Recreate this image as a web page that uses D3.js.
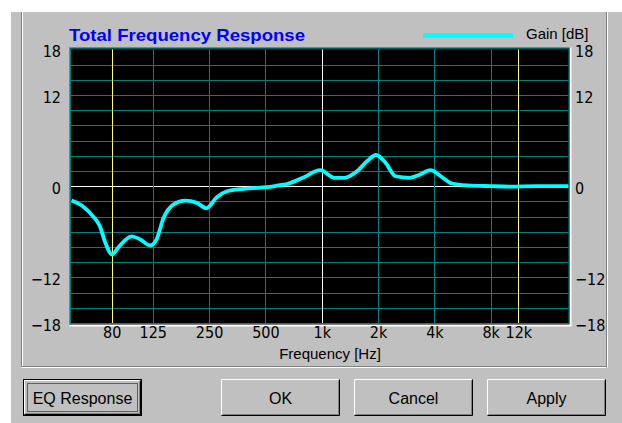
<!DOCTYPE html>
<html><head><meta charset="utf-8">
<script src="https://cdn.jsdelivr.net/npm/d3@7"></script>
<style>
html,body{margin:0;padding:0;background:#fff;}
svg{display:block;}
text{font-family:"Liberation Sans",Arial,sans-serif;}
</style></head><body>
<svg id="chart" width="622" height="423"></svg>
<script>
// Total response curve: frequency (Hz) and gain (dB)
const freqHz = [46, 53.2, 60.1, 65.3, 69.6, 75.8, 81.5, 96.3, 107, 121, 131, 142.7, 161.6, 186, 215, 242, 274, 310, 381, 468, 526, 586, 645, 792, 982, 1170, 1320, 1549, 1750, 1950, 2190, 2480, 2960, 3330, 3810, 4330, 4980, 6000, 8000, 10100, 14000, 20800];
const gainDb = [-1.9, -2.7, -4.0, -5.3, -7.4, -9.0, -8.1, -6.6, -7.0, -7.8, -7.0, -4.2, -2.4, -1.9, -2.2, -2.9, -1.5, -0.7, -0.35, -0.2, -0.1, 0.1, 0.25, 1.1, 2.1, 1.1, 1.1, 2.0, 3.3, 4.1, 3.1, 1.3, 1.1, 1.5, 2.1, 1.3, 0.35, 0.1, 0.0, -0.05, 0.0, 0.0];

// Frequency grid and its labels
const xTickFreqs = [75.4, 125, 250, 500, 1000, 2000, 4000, 8000, 11240];
const xTickLabels = ["80", "125", "250", "500", "1k", "2k", "4k", "8k", "12k"];
const xMarkerFreqs = [75.4, 11240];   // crossover markers (yellow)
const xRefFreq = 1000;                // reference line (white)
// Gain grid and its labels
const yTickValues = [18, 12, 0, -12, -18];
const yGridValues = d3.range(-16, 17, 2);
// Dialog buttons
const buttonLabels = ["EQ Response", "OK", "Cancel", "Apply"];

const svg = d3.select("#chart");
const plot = {left: 71, right: 568.5, top: 49.3, bottom: 323};

const x = d3.scaleLog().domain([45.7, 20840]).range([plot.left, plot.right]);
const y = d3.scaleLinear().domain([-18, 18]).range([plot.bottom, plot.top]);

// dialog background
svg.append("rect").attr("x", 11).attr("y", 12).attr("width", 611).attr("height", 411).attr("fill", "#c0c0c0");

// etched group frame
function etched(x1, y1, x2, y2) {
  svg.append("line").attr("x1", x1).attr("y1", y1).attr("x2", x2).attr("y2", y2).attr("stroke", "#808080");
  svg.append("line").attr("x1", x1 + (x1 === x2 ? 1 : 0)).attr("y1", y1 + (y1 === y2 ? 1 : 0))
    .attr("x2", x2 + (x1 === x2 ? 1 : 0)).attr("y2", y2 + (y1 === y2 ? 1 : 0)).attr("stroke", "#ffffff");
}
etched(21.5, 12, 21.5, 366.5);
etched(21.5, 366.5, 606.5, 366.5);
etched(606.5, 12, 606.5, 367.5);

// plot well
svg.append("rect").attr("x", 70).attr("y", 48).attr("width", 500.5).attr("height", 277).attr("fill", "#000");
svg.append("line").attr("x1", 69.5).attr("y1", 47.5).attr("x2", 570.5).attr("y2", 47.5).attr("stroke", "#808080");
svg.append("line").attr("x1", 69.5).attr("y1", 47.5).attr("x2", 69.5).attr("y2", 325.5).attr("stroke", "#808080");
svg.append("line").attr("x1", 570.5).attr("y1", 47.5).attr("x2", 570.5).attr("y2", 325.5).attr("stroke", "#ffffff").attr("stroke-width", 2);
svg.append("line").attr("x1", 69.5).attr("y1", 325.5).attr("x2", 571.5).attr("y2", 325.5).attr("stroke", "#ffffff").attr("stroke-width", 2);

const g = svg.append("g");

// horizontal grid
g.selectAll("line.hgrid").data(yGridValues).join("line")
  .attr("x1", plot.left).attr("x2", plot.right)
  .attr("y1", d => Math.round(y(d)) + 0.5).attr("y2", d => Math.round(y(d)) + 0.5)
  .attr("stroke", d => d === 0 ? "#ffffff" : "#008080");

// vertical grid
g.selectAll("line.vgrid").data(xTickFreqs).join("line")
  .attr("y1", plot.top).attr("y2", plot.bottom)
  .attr("x1", d => Math.round(x(d)) + 0.5).attr("x2", d => Math.round(x(d)) + 0.5)
  .attr("stroke", d => xMarkerFreqs.includes(d) ? "#ffff80" : (d === xRefFreq ? "#ffffff" : "#008080"));

// grid border
g.append("rect").attr("x", plot.left - 0.5).attr("y", plot.top - 0.5)
  .attr("width", plot.right - plot.left + 1).attr("height", plot.bottom - plot.top + 1)
  .attr("fill", "none").attr("stroke", "#008080");

// response curve
const pts = freqHz.map((f, i) => [f, gainDb[i]]);
g.append("path").datum(pts)
  .attr("d", d3.line().x(d => x(d[0])).y(d => y(d[1])).curve(d3.curveMonotoneX))
  .attr("fill", "none").attr("stroke", "#00ffff").attr("stroke-width", 3.8)
  .attr("stroke-linejoin", "round").attr("stroke-linecap", "butt");

// axes
const tickFont = '"Liberation Sans Narrow","DejaVu Sans Condensed",sans-serif';
const yAxisL = d3.axisLeft(y).tickValues(yTickValues).tickSize(0).tickPadding(0).tickFormat(d3.format("d"));
const yAxisR = d3.axisRight(y).tickValues(yTickValues).tickSize(0).tickPadding(0).tickFormat(d3.format("d"));
const xAxis = d3.axisBottom(x).tickValues(xTickFreqs).tickSize(0).tickPadding(0)
  .tickFormat((d, i) => xTickLabels[i]);

function styleAxis(sel) {
  sel.select(".domain").remove();
  sel.selectAll("text").attr("fill", "#000").style("font-family", tickFont).style("font-size", "16px");
}
svg.append("g").attr("transform", "translate(61,2)").call(yAxisL).call(styleAxis);
svg.append("g").attr("transform", "translate(575,2)").call(yAxisR).call(styleAxis);
svg.append("g").attr("transform", "translate(0,327)").call(xAxis).call(styleAxis);

svg.append("text").attr("x", 330).attr("y", 359).attr("text-anchor", "middle")
  .style("font-size", "15px").attr("fill", "#000").text("Frequency [Hz]");

// title and legend
svg.append("text").attr("x", 69).attr("y", 41).attr("fill", "#0000ff")
  .style("font-size", "17px").style("font-weight", "bold")
  .attr("textLength", 236).attr("lengthAdjust", "spacingAndGlyphs")
  .text("Total Frequency Response");
svg.append("line").attr("x1", 423).attr("x2", 513).attr("y1", 35.5).attr("y2", 35.5)
  .attr("stroke", "#00ffff").attr("stroke-width", 5);
svg.append("text").attr("x", 526).attr("y", 39).attr("fill", "#000")
  .style("font-size", "15px").text("Gain [dB]");

// buttons
const btnX = [23, 221, 354, 487];
const btnW = 119, btnY = 379, btnH = 37;
buttonLabels.forEach((label, i) => {
  const bx = btnX[i], by = btnY, focused = i === 0;
  const b = svg.append("g");
  b.append("rect").attr("x", bx).attr("y", by).attr("width", btnW).attr("height", btnH).attr("fill", "#c0c0c0");
  const o = focused ? 1 : 0;
  if (focused) {
    b.append("rect").attr("x", bx + 0.5).attr("y", by + 0.5).attr("width", btnW - 1).attr("height", btnH - 1)
      .attr("fill", "none").attr("stroke", "#000");
  }
  const L = bx + o + 0.5, T = by + o + 0.5, R = bx + btnW - o - 0.5, B = by + btnH - o - 0.5;
  b.append("path").attr("d", `M${L},${B - 1}V${T}H${R - 1}`).attr("fill", "none").attr("stroke", "#ffffff");
  b.append("path").attr("d", `M${L},${B}H${R}V${T}`).attr("fill", "none").attr("stroke", "#000");
  b.append("path").attr("d", `M${L + 1},${B - 1}H${R - 1}V${T + 1}`).attr("fill", "none").attr("stroke", "#808080");
  if (focused) {
    b.append("rect").attr("x", bx + 4.5).attr("y", by + 4.5).attr("width", btnW - 9).attr("height", btnH - 9)
      .attr("fill", "none").attr("stroke", "#000").attr("stroke-dasharray", "1,1");
  }
  b.append("text").attr("x", bx + btnW / 2).attr("y", by + btnH / 2 + 6).attr("text-anchor", "middle")
    .style("font-size", "16px").attr("fill", "#000").text(label);
});
</script>
</body></html>
